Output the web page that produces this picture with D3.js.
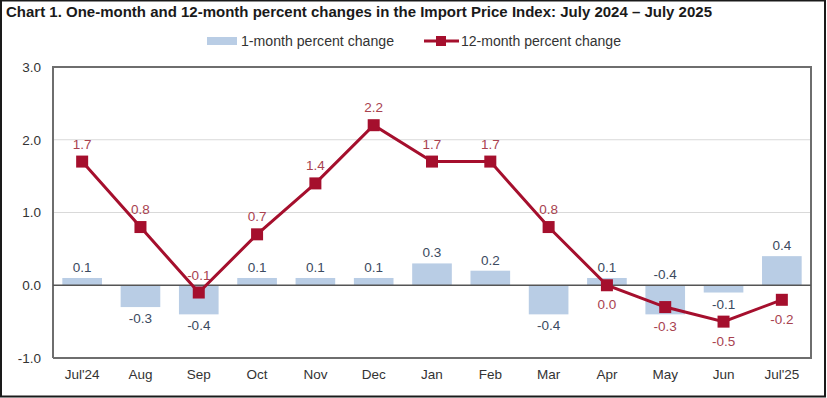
<!DOCTYPE html>
<html>
<head>
<meta charset="utf-8">
<script src="https://cdn.jsdelivr.net/npm/d3@7"></script>
<style>
  body { margin: 0; background: #fff; }
  svg { display: block; font-family: "Liberation Sans", Arial, sans-serif; }
</style>
</head>
<body>
<div id="chart"></div>
<script>
const months = ["Jul'24", "Aug", "Sep", "Oct", "Nov", "Dec", "Jan", "Feb", "Mar", "Apr", "May", "Jun", "Jul'25"];
const oneMonth = [0.1, -0.3, -0.4, 0.1, 0.1, 0.1, 0.3, 0.2, -0.4, 0.1, -0.4, -0.1, 0.4];
const twelveMonth = [1.7, 0.8, -0.1, 0.7, 1.4, 2.2, 1.7, 1.7, 0.8, 0.0, -0.3, -0.5, -0.2];
const yTicks = [-1.0, 0.0, 1.0, 2.0, 3.0];

const width = 827, height = 398;
const margin = { top: 67, right: 16, bottom: 40, left: 53 };

// plain hyphen for negatives, like the original
const fmt = d => (Math.abs(d) < 1e-9 ? 0 : d).toFixed(1);

const svg = d3.select("#chart").append("svg")
    .attr("width", width)
    .attr("height", height);

// outer frame
svg.append("rect")
    .attr("x", 1).attr("y", 0.5)
    .attr("width", width - 3).attr("height", height - 2)
    .attr("fill", "none")
    .attr("stroke", "#1a1a1a")
    .attr("stroke-width", 2);

svg.append("text")
    .attr("x", 6).attr("y", 17)
    .attr("font-size", 14.5)
    .attr("font-weight", "bold")
    .attr("fill", "#1a1a1a")
    .attr("textLength", 706)
    .attr("lengthAdjust", "spacingAndGlyphs")
    .text("Chart 1. One-month and 12-month percent changes in the Import Price Index: July 2024 \u2013 July 2025");

const x = d3.scaleBand()
    .domain(months)
    .range([margin.left, width - margin.right])
    .paddingInner(0.32)
    .paddingOuter(0.16);

const y = d3.scaleLinear()
    .domain([-1, 3])
    .range([height - margin.bottom, margin.top]);

const cx = d => x(d) + x.bandwidth() / 2;

// gridlines
svg.append("g")
    .selectAll("line")
    .data(yTicks.filter(t => t === 1 || t === 2))
    .join("line")
    .attr("x1", margin.left).attr("x2", width - margin.right)
    .attr("y1", d => y(d)).attr("y2", d => y(d))
    .attr("stroke", "#d9d9d9")
    .attr("stroke-width", 1);

// y axis labels
const yAxis = svg.append("g")
    .attr("transform", `translate(${margin.left},0)`)
    .call(d3.axisLeft(y).tickValues(yTicks).tickFormat(fmt).tickSize(0).tickPadding(12));
yAxis.select(".domain").remove();
yAxis.selectAll("text")
    .attr("font-size", 13.5)
    .attr("font-family", "Liberation Sans, Arial, sans-serif")
    .attr("fill", "#333");

// bars
svg.append("g")
    .selectAll("rect")
    .data(oneMonth)
    .join("rect")
    .attr("x", (d, i) => x(months[i]))
    .attr("width", x.bandwidth())
    .attr("y", d => d >= 0 ? y(d) : y(0))
    .attr("height", d => Math.abs(y(d) - y(0)))
    .attr("fill", "#b9cde5");

// plot frame
svg.append("path")
    .attr("d", `M${margin.left},${height - margin.bottom}V${margin.top}H${width - margin.right}V${height - margin.bottom}H${margin.left}`)
    .attr("fill", "none")
    .attr("stroke", "#6e6e6e")
    .attr("stroke-width", 2);

// zero line
svg.append("line")
    .attr("x1", margin.left).attr("x2", width - margin.right)
    .attr("y1", y(0)).attr("y2", y(0))
    .attr("stroke", "#555")
    .attr("stroke-width", 1.5);

// x axis labels
const xAxis = svg.append("g")
    .attr("transform", `translate(0,${height - margin.bottom})`)
    .call(d3.axisBottom(x).tickSize(0).tickPadding(11));
xAxis.select(".domain").remove();
xAxis.selectAll("text")
    .attr("font-size", 13.5)
    .attr("font-family", "Liberation Sans, Arial, sans-serif")
    .attr("fill", "#333");

// bar labels (May label sits above to clear the line label)
const barAbove = (d, i) => d >= 0 || months[i] === "May";
svg.append("g")
    .selectAll("text")
    .data(oneMonth)
    .join("text")
    .attr("x", (d, i) => cx(months[i]))
    .attr("y", (d, i) => barAbove(d, i) ? Math.min(y(d), y(0)) - 6 : y(d) + 16)
    .attr("text-anchor", "middle")
    .attr("font-size", 13.5)
    .attr("fill", "#3b4a60")
    .text(fmt);

// 12-month line
const line = d3.line()
    .x((d, i) => cx(months[i]))
    .y(d => y(d));

svg.append("path")
    .datum(twelveMonth)
    .attr("d", line)
    .attr("fill", "none")
    .attr("stroke", "#a50f2d")
    .attr("stroke-width", 3);

svg.append("g")
    .selectAll("rect")
    .data(twelveMonth)
    .join("rect")
    .attr("x", (d, i) => cx(months[i]) - 6)
    .attr("y", d => y(d) - 6)
    .attr("width", 12).attr("height", 12)
    .attr("fill", "#a50f2d");

const lineAbove = (d, i) => i < 9;
svg.append("g")
    .selectAll("text")
    .data(twelveMonth)
    .join("text")
    .attr("x", (d, i) => cx(months[i]))
    .attr("y", (d, i) => lineAbove(d, i) ? y(d) - 13 : y(d) + 24)
    .attr("text-anchor", "middle")
    .attr("font-size", 13.5)
    .attr("fill", "#a8424f")
    .text(fmt);

// legend
const legend = svg.append("g");
legend.append("rect")
    .attr("x", 207).attr("y", 37).attr("width", 30).attr("height", 8)
    .attr("fill", "#b9cde5");
legend.append("text")
    .attr("x", 241).attr("y", 46)
    .attr("font-size", 14).attr("fill", "#333")
    .attr("textLength", 153).attr("lengthAdjust", "spacingAndGlyphs")
    .text("1-month percent change");
legend.append("line")
    .attr("x1", 424).attr("x2", 459).attr("y1", 41).attr("y2", 41)
    .attr("stroke", "#a50f2d").attr("stroke-width", 3);
legend.append("rect")
    .attr("x", 436).attr("y", 36).attr("width", 10).attr("height", 10)
    .attr("fill", "#a50f2d");
legend.append("text")
    .attr("x", 461).attr("y", 46)
    .attr("font-size", 14).attr("fill", "#333")
    .attr("textLength", 160).attr("lengthAdjust", "spacingAndGlyphs")
    .text("12-month percent change");
</script>
</body>
</html>
